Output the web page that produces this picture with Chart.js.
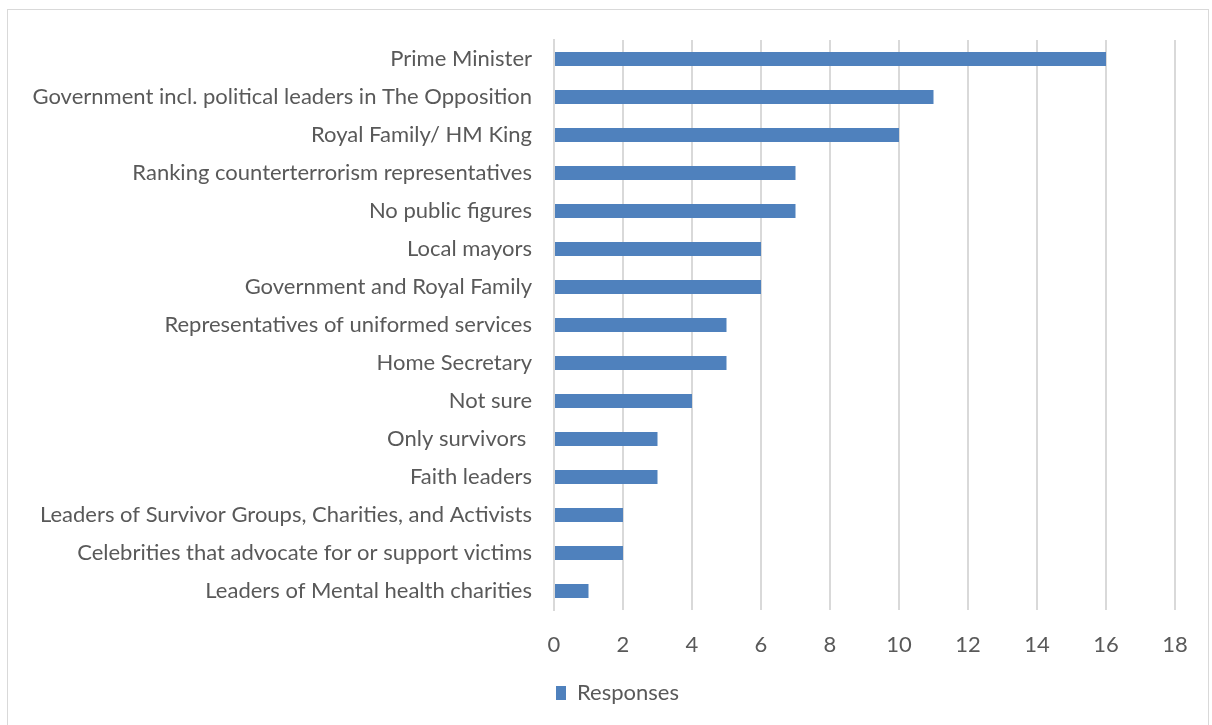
<!DOCTYPE html>
<html>
<head>
<meta charset="utf-8">
<script src="https://cdn.jsdelivr.net/npm/chart.js@4.4.1/dist/chart.umd.min.js"></script>
<style>
  html, body { margin: 0; padding: 0; background: #fff; }
  #frame {
    position: absolute; left: 7px; top: 9px; width: 1202px; height: 730px;
    border: 1px solid #d9d9d9; box-sizing: border-box;
  }
  #wrap { position: absolute; left: 0; top: 0; width: 1212px; height: 725px; }
</style>
</head>
<body>
<div id="frame"></div>
<div id="wrap"><canvas id="chart" width="1212" height="725"></canvas></div>
<script>
const categories = [
  "Prime Minister",
  "Government incl. political leaders in The Opposition",
  "Royal Family/ HM King",
  "Ranking counterterrorism representatives",
  "No public figures",
  "Local mayors",
  "Government and Royal Family",
  "Representatives of uniformed services",
  "Home Secretary",
  "Not sure",
  "Only survivors ",
  "Faith leaders",
  "Leaders of Survivor Groups, Charities, and Activists",
  "Celebrities that advocate for or support victims",
  "Leaders of Mental health charities"
];
const responses = [16, 11, 10, 7, 7, 6, 6, 5, 5, 4, 3, 3, 2, 2, 1];
const seriesName = "Responses";
const xMin = 0;
const xMax = 18;
const xStep = 2;

const textColor = "#595959";
const gridColor = "#d9d9d9";
const barColor = "#4f81bd";
const fontFamily = "Lato, 'Open Sans', sans-serif";

Chart.defaults.font.family = fontFamily;
Chart.defaults.font.size = 22;
Chart.defaults.color = textColor;

// legend in the original sits a little right of centre
const shiftLegend = {
  id: "shiftLegend",
  afterLayout(chart) {
    chart.legend.left += 30;
    chart.legend.right += 30;
  }
};

const ctx = document.getElementById("chart").getContext("2d");
new Chart(ctx, {
  type: "bar",
  data: {
    labels: categories,
    datasets: [{
      label: seriesName,
      data: responses,
      backgroundColor: barColor,
      borderWidth: 0,
      barPercentage: 0.74,
      categoryPercentage: 0.5
    }]
  },
  options: {
    indexAxis: "y",
    responsive: false,
    animation: false,
    layout: { padding: { left: 0, right: 37, top: 40, bottom: 11 } },
    plugins: {
      legend: {
        position: "bottom",
        labels: {
          boxWidth: 10,
          boxHeight: 14,
          padding: 10,
          font: { size: 22 },
          color: textColor
        }
      },
      tooltip: { enabled: false }
    },
    scales: {
      x: {
        min: xMin,
        max: xMax,
        ticks: { stepSize: xStep, padding: 22, font: { size: 22 } },
        grid: { color: gridColor, lineWidth: 2, drawTicks: false },
        border: { display: false },
        afterFit(scale) { scale.height = 62; }
      },
      y: {
        ticks: { padding: 22, font: { size: 22 } },
        grid: { display: false, drawTicks: false },
        border: { display: true, color: gridColor, width: 2 },
        afterFit(scale) { scale.width = 554; }
      }
    }
  },
  plugins: [shiftLegend]
});
</script>
</body>
</html>
